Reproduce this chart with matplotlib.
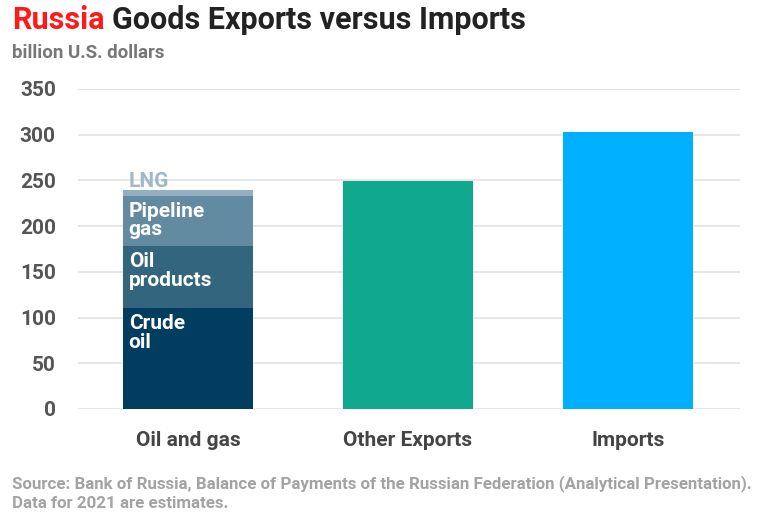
import matplotlib

matplotlib.use("Agg")
import matplotlib.pyplot as plt

# ── Data ──────────────────────────────────────────────────
categories = ["Oil and gas", "Other Exports", "Imports"]
oil_gas_parts = ["Crude\noil", "Oil\nproducts", "Pipeline\ngas", "LNG"]
oil_gas_values = [110, 68, 55, 7]
other_exports = 249
imports = 303
y_ticks = [0, 50, 100, 150, 200, 250, 300, 350]

# ── Styles ────────────────────────────────────────────────
part_colors = ["#003d5e", "#33657f", "#628ba1", "#93afc0"]
other_color = "#10a88e"
imports_color = "#00b0fe"
grid_color = "#e3e3e3"
font = "Roboto"

plt.rcParams["font.family"] = [font, "DejaVu Sans"]
plt.rcParams["font.weight"] = "bold"

fig = plt.figure(figsize=(7.66, 5.22), dpi=100)
ax = fig.add_axes([78 / 766, 1 - 409 / 522, 662 / 766, 320 / 522])

width = 0.59
x = list(range(len(categories)))

# Stacked oil and gas bar
bottom = 0
for label, val, col in zip(oil_gas_parts, oil_gas_values, part_colors):
    ax.bar(x[0], val, width, bottom=bottom, color=col, zorder=2)
    if label == "LNG":
        ax.annotate(label, (x[0] - width / 2, bottom + val), xytext=(4, 1.5),
                    textcoords="offset points", ha="left", va="baseline",
                    color="#9fb7c7", fontsize=15, fontweight="bold")
    else:
        ax.annotate(label, (x[0] - width / 2, bottom + val), xytext=(4, -4),
                    textcoords="offset points", ha="left", va="top",
                    color="white", fontsize=15, fontweight="bold",
                    linespacing=0.98)
    bottom += val

ax.bar(x[1], other_exports, width, color=other_color, zorder=2)
ax.bar(x[2], imports, width, color=imports_color, zorder=2)

ax.set_xlim(-0.5, 2.509)
ax.set_ylim(0, 350)
ax.set_yticks(y_ticks)
ax.set_yticklabels([str(t) for t in y_ticks], fontsize=15, color="#555555",
                   fontweight="bold")
ax.set_xticks(x)
ax.set_xticklabels(categories, fontsize=15, color="#444444", fontweight="bold")
ax.tick_params(axis="y", length=0, pad=16)
ax.tick_params(axis="x", length=0, pad=16)
ax.yaxis.grid(True, color=grid_color, linewidth=1.2, zorder=0)
ax.set_axisbelow(True)
for s in ax.spines.values():
    s.set_visible(False)

# Title and notes
t1 = fig.text(12 / 766, 1 - 29 / 522, "Russia", color="#ff1a1a", fontsize=22,
              fontweight="bold", ha="left", va="baseline")
fig.canvas.draw()
bb = t1.get_window_extent()
fig.text((bb.x1 + 7) / 766, 1 - 29 / 522, "Goods Exports versus Imports",
         color="#222222", fontsize=22, fontweight="bold", ha="left",
         va="baseline")
fig.text(12 / 766, 1 - 58 / 522, "billion U.S. dollars", color="#777777",
         fontsize=13.5, fontweight="bold", ha="left", va="baseline")
fig.text(12 / 766, 1 - 508 / 522,
         "Source: Bank of Russia, Balance of Payments of the Russian Federation "
         "(Analytical Presentation).\nData for 2021 are estimates.",
         color="#a3a3a3", fontsize=12.2, fontweight="bold", ha="left",
         va="baseline", linespacing=1.3)

fig.savefig("out.png", dpi=100)
